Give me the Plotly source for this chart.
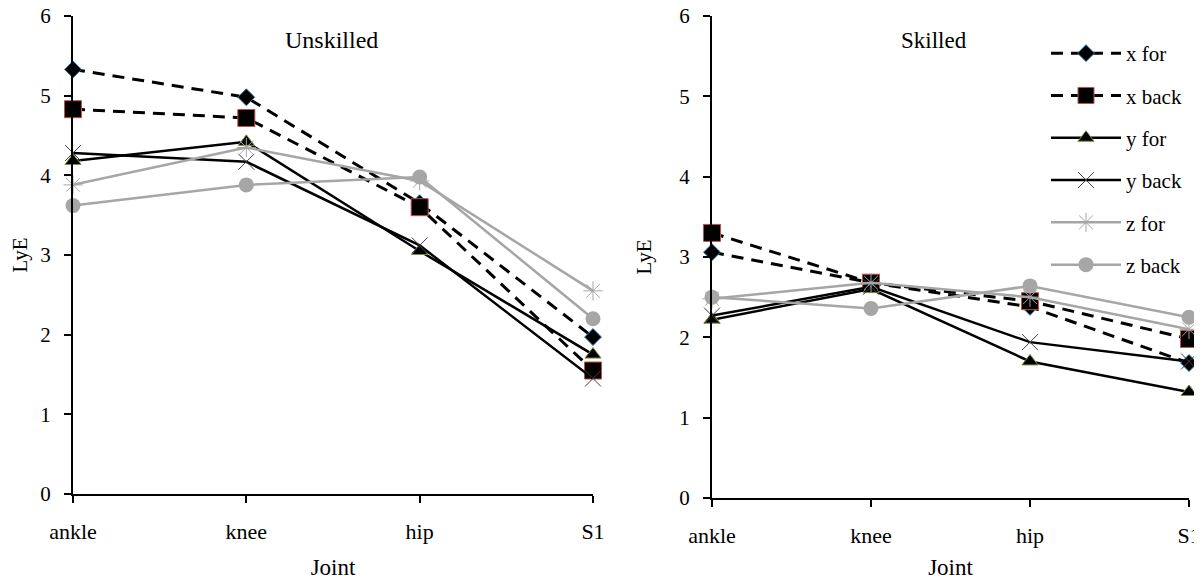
import plotly.graph_objects as go

joints = ["ankle", "knee", "hip", "S1"]
series_names = ["x for", "x back", "y for", "y back", "z for", "z back"]

unskilled_x_for = [5.33, 4.98, 3.65, 1.97]
unskilled_x_back = [4.83, 4.72, 3.60, 1.55]
unskilled_y_for = [4.18, 4.42, 3.05, 1.75]
unskilled_y_back = [4.28, 4.17, 3.12, 1.45]
unskilled_z_for = [3.88, 4.35, 3.93, 2.55]
unskilled_z_back = [3.62, 3.88, 3.98, 2.20]

skilled_x_for = [3.06, 2.68, 2.38, 1.68]
skilled_x_back = [3.30, 2.68, 2.45, 1.98]
skilled_y_for = [2.22, 2.60, 1.70, 1.32]
skilled_y_back = [2.27, 2.63, 1.94, 1.70]
skilled_z_for = [2.48, 2.68, 2.50, 2.10]
skilled_z_back = [2.50, 2.36, 2.64, 2.25]

unskilled = [unskilled_x_for, unskilled_x_back, unskilled_y_for,
             unskilled_y_back, unskilled_z_for, unskilled_z_back]
skilled = [skilled_x_for, skilled_x_back, skilled_y_for,
           skilled_y_back, skilled_z_for, skilled_z_back]

GRAY = "#A6A6A6"
DASH = "12px,8px"
styles = [
    dict(line=dict(color="black", width=3, dash=DASH),
         marker=dict(symbol="diamond", size=13, color="black",
                     line=dict(color="#2E75B6", width=1))),
    dict(line=dict(color="black", width=3, dash=DASH),
         marker=dict(symbol="square", size=17, color="black",
                     line=dict(color="#C0504D", width=1))),
    dict(line=dict(color="black", width=2.5),
         marker=dict(symbol="triangle-up", size=14, color="black",
                     line=dict(color="#77933C", width=1))),
    dict(line=dict(color="black", width=2.5),
         marker=dict(symbol="x-thin", size=16, color="black",
                     line=dict(color="#404040", width=1))),
    dict(line=dict(color=GRAY, width=2.5),
         marker=dict(symbol="asterisk-open", size=16, color=GRAY,
                     line=dict(color=GRAY, width=1))),
    dict(line=dict(color=GRAY, width=2.5),
         marker=dict(symbol="circle", size=15, color=GRAY,
                     line=dict(color=GRAY, width=0))),
]

xs = list(range(len(joints)))
fig = go.Figure()
for i, name in enumerate(series_names):
    fig.add_trace(go.Scatter(x=xs, y=unskilled[i], name=name, mode="lines+markers",
                             xaxis="x", yaxis="y", showlegend=False,
                             cliponaxis=False, **styles[i]))
for i, name in enumerate(series_names):
    fig.add_trace(go.Scatter(x=xs, y=skilled[i], name=name, mode="lines+markers",
                             xaxis="x2", yaxis="y2", showlegend=True,
                             legendgroup=name, cliponaxis=False, **styles[i]))

OFF = 8  # page body margin: screen = figure + OFF
W, H = 1202 - OFF, 581 - OFF
FONT = "Liberation Serif, Times New Roman, serif"


def px(sx):
    return (sx - OFF) / W


def py(sy):
    return 1 - (sy - OFF) / H


def xax(domain, anchor, standoff):
    return dict(domain=domain, anchor=anchor, range=[0, 3], tickvals=xs, ticktext=joints,
                showline=True, linecolor="black", linewidth=2, ticks="outside",
                ticklen=7, tickwidth=2, tickcolor="black", showgrid=False, zeroline=False,
                ticklabelstandoff=10, ticklabeloverflow="allow",
                tickfont=dict(family=FONT, size=22, color="black"),
                title=dict(text="Joint", font=dict(family=FONT, size=23, color="black"),
                           standoff=standoff))


def yax(domain, anchor, standoff):
    return dict(domain=domain, anchor=anchor, range=[0, 6], dtick=1,
                showline=True, linecolor="black", linewidth=2, ticks="outside",
                ticklen=7, tickwidth=2, tickcolor="black", showgrid=False, zeroline=False,
                ticklabelstandoff=9, ticklabeloverflow="allow",
                tickfont=dict(family=FONT, size=21, color="black"),
                title=dict(text="LyE", font=dict(family=FONT, size=21, color="black"),
                           standoff=standoff))


fig.update_layout(
    width=W, height=H,
    margin=dict(l=0, r=0, t=0, b=0, autoexpand=False),
    paper_bgcolor="white", plot_bgcolor="white",
    font=dict(family=FONT, color="black"),
    xaxis=xax([px(73), px(593)], "y", 15),
    yaxis=yax([py(494), py(16)], "x", 14),
    xaxis2=xax([px(712), px(1189)], "y2", 11),
    yaxis2=yax([py(498), py(16)], "x2", 22),
    legend=dict(x=px(1046), y=py(33), xanchor="left", yanchor="top",
                font=dict(family=FONT, size=21, color="black"),
                itemwidth=70,
                bgcolor="rgba(0,0,0,0)", traceorder="grouped", tracegroupgap=12),
    annotations=[
        dict(text="Unskilled", x=px(331), y=py(40), xref="paper", yref="paper",
             xanchor="center", yanchor="middle",
             showarrow=False, font=dict(family=FONT, size=24, color="black")),
        dict(text="Skilled", x=px(934), y=py(40), xref="paper", yref="paper",
             xanchor="center", yanchor="middle",
             showarrow=False, font=dict(family=FONT, size=23, color="black")),
    ],
)

fig.write_html("out.html")
